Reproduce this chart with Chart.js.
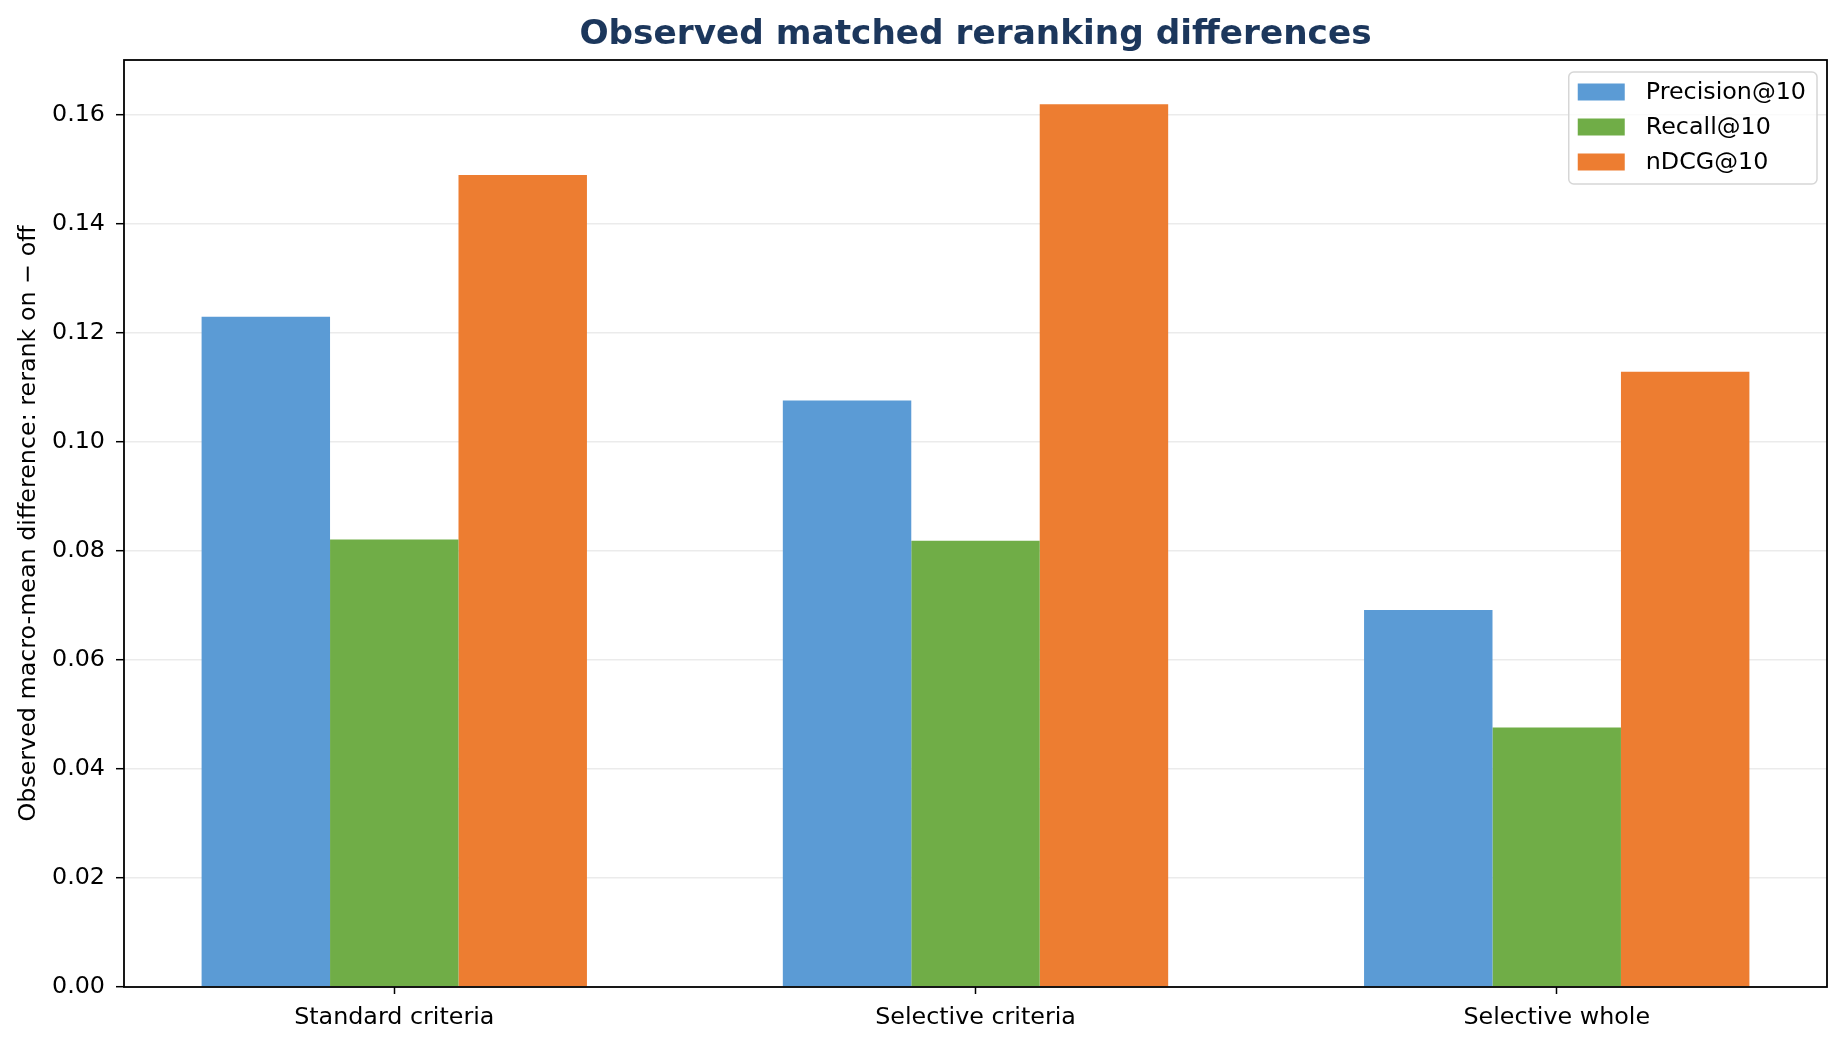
<!doctype html>
<html lang="en">
  <head>
    <meta charset="utf-8">
    <title>Observed matched reranking differences</title>
    <script src="https://cdn.jsdelivr.net/npm/chart.js"></script>
    <style>
      body { margin: 0; background: #fff; }
      #wrap { width: 1846px; height: 1048px; }
    </style>
  </head>
  <body>
    <div id="wrap">
      <canvas id="rerankChart" width="1846" height="1048"></canvas>
    </div>
  <script>
    // categories and series
    const categories = ["Standard criteria", "Selective criteria", "Selective whole"];
    const precision10 = [0.1230, 0.1076, 0.0692];
    const recall10 = [0.0821, 0.0819, 0.0476];
    const ndcg10 = [0.1490, 0.1620, 0.1129];
    const yTicks = [0.00, 0.02, 0.04, 0.06, 0.08, 0.10, 0.12, 0.14, 0.16];

    const seriesNames = ["Precision@10", "Recall@10", "nDCG@10"];
    const seriesColors = ["#5B9BD5", "#70AD47", "#ED7D31"];
    const chartTitle = "Observed matched reranking differences";

    const FONT = "'DejaVu Sans', sans-serif";
    const TEXT_SIZE = 23.8;

    function toPoints(values) {
      return values.map((v, i) => ({ x: i, y: v }));
    }

    // black frame round the plot area and the title centred over it
    const framePlugin = {
      id: "frame",
      afterDraw(chart) {
        const a = chart.chartArea;
        const ctx = chart.ctx;
        ctx.save();
        ctx.strokeStyle = "#000";
        ctx.lineWidth = 1.8;
        ctx.strokeRect(a.left, a.top, a.right - a.left, a.bottom - a.top);
        ctx.font = "bold 34.3px " + FONT;
        ctx.fillStyle = "#1c375c";
        ctx.textAlign = "center";
        ctx.textBaseline = "alphabetic";
        ctx.fillText(chartTitle, (a.left + a.right) / 2, 43.5);
        ctx.restore();
      }
    };

    // legend box inside the upper right corner
    const innerLegend = {
      id: "innerLegend",
      afterDraw(chart) {
        const a = chart.chartArea;
        const ctx = chart.ctx;
        ctx.save();
        ctx.font = TEXT_SIZE + "px " + FONT;
        var textW = 0;
        chart.data.datasets.forEach(ds => { textW = Math.max(textW, ctx.measureText(ds.label).width); });
        const boxW = 9 + 47 + 21 + textW + 11;
        const boxH = 112;
        const x0 = a.right - 10 - boxW;
        const y0 = a.top + 12;
        ctx.beginPath();
        ctx.roundRect(x0, y0, boxW, boxH, 5);
        ctx.fillStyle = "rgba(255,255,255,0.8)";
        ctx.fill();
        ctx.strokeStyle = "#d6d6d6";
        ctx.lineWidth = 1.5;
        ctx.stroke();
        chart.data.datasets.forEach((ds, i) => {
          const cy = y0 + 20 + i * 35;
          ctx.fillStyle = ds.backgroundColor;
          ctx.fillRect(x0 + 9, cy - 8.5, 47, 17);
          ctx.fillStyle = "#000";
          ctx.textBaseline = "middle";
          ctx.textAlign = "left";
          ctx.fillText(ds.label, x0 + 77, cy + 1);
        });
        ctx.restore();
      }
    };

    const ctx = document.getElementById("rerankChart").getContext("2d");
    const rerankChart = new Chart(ctx, {
      type: "bar",
      data: {
        datasets: [
          { label: seriesNames[0], data: toPoints(precision10), backgroundColor: seriesColors[0] },
          { label: seriesNames[1], data: toPoints(recall10), backgroundColor: seriesColors[1] },
          { label: seriesNames[2], data: toPoints(ndcg10), backgroundColor: seriesColors[2] },
        ],
      },
      options: {
        responsive: false,
        animation: false,
        devicePixelRatio: 1,
        layout: { padding: { left: 0, right: 19, top: 60, bottom: 0 } },
        datasets: {
          bar: { categoryPercentage: 0.663, barPercentage: 1.0, borderWidth: 0 }
        },
        plugins: {
          legend: { display: false },
          tooltip: { enabled: false },
          title: { display: false },
        },
        scales: {
          x: {
            type: "linear",
            min: -0.465,
            max: 2.465,
            offset: false,
            afterBuildTicks: (scale) => { scale.ticks = categories.map((c, i) => ({ value: i })); },
            afterFit: (scale) => { scale.height = 61; },
            grid: { display: true, offset: false, drawOnChartArea: false, drawTicks: true, tickLength: 7, tickColor: "#000", tickWidth: 1.5 },
            border: { display: false },
            ticks: {
              autoSkip: false,
              maxRotation: 0,
              padding: 10,
              color: "#000",
              font: { family: FONT, size: TEXT_SIZE },
              callback: (value) => categories[Math.round(value)],
            },
          },
          y: {
            min: 0,
            max: 0.1701,
            z: 1,
            afterBuildTicks: (scale) => { scale.ticks = yTicks.map(v => ({ value: v })); },
            afterFit: (scale) => { scale.width = 124; },
            grid: { color: "rgba(176,176,176,0.25)", lineWidth: 1.4, tickLength: 8, tickColor: "#000", tickWidth: 1.5 },
            border: { display: false },
            ticks: {
              padding: 11,
              color: "#000",
              font: { family: FONT, size: TEXT_SIZE },
              callback: (value) => Number(value).toFixed(2),
            },
            title: {
              display: true,
              text: "Observed macro-mean difference: rerank on \u2212 off",
              color: "#000",
              font: { family: FONT, size: TEXT_SIZE },
              padding: { top: 15, bottom: 0 },
            },
          },
        },
      },
      plugins: [framePlugin, innerLegend],
    });
  </script>
  </body>
</html>
